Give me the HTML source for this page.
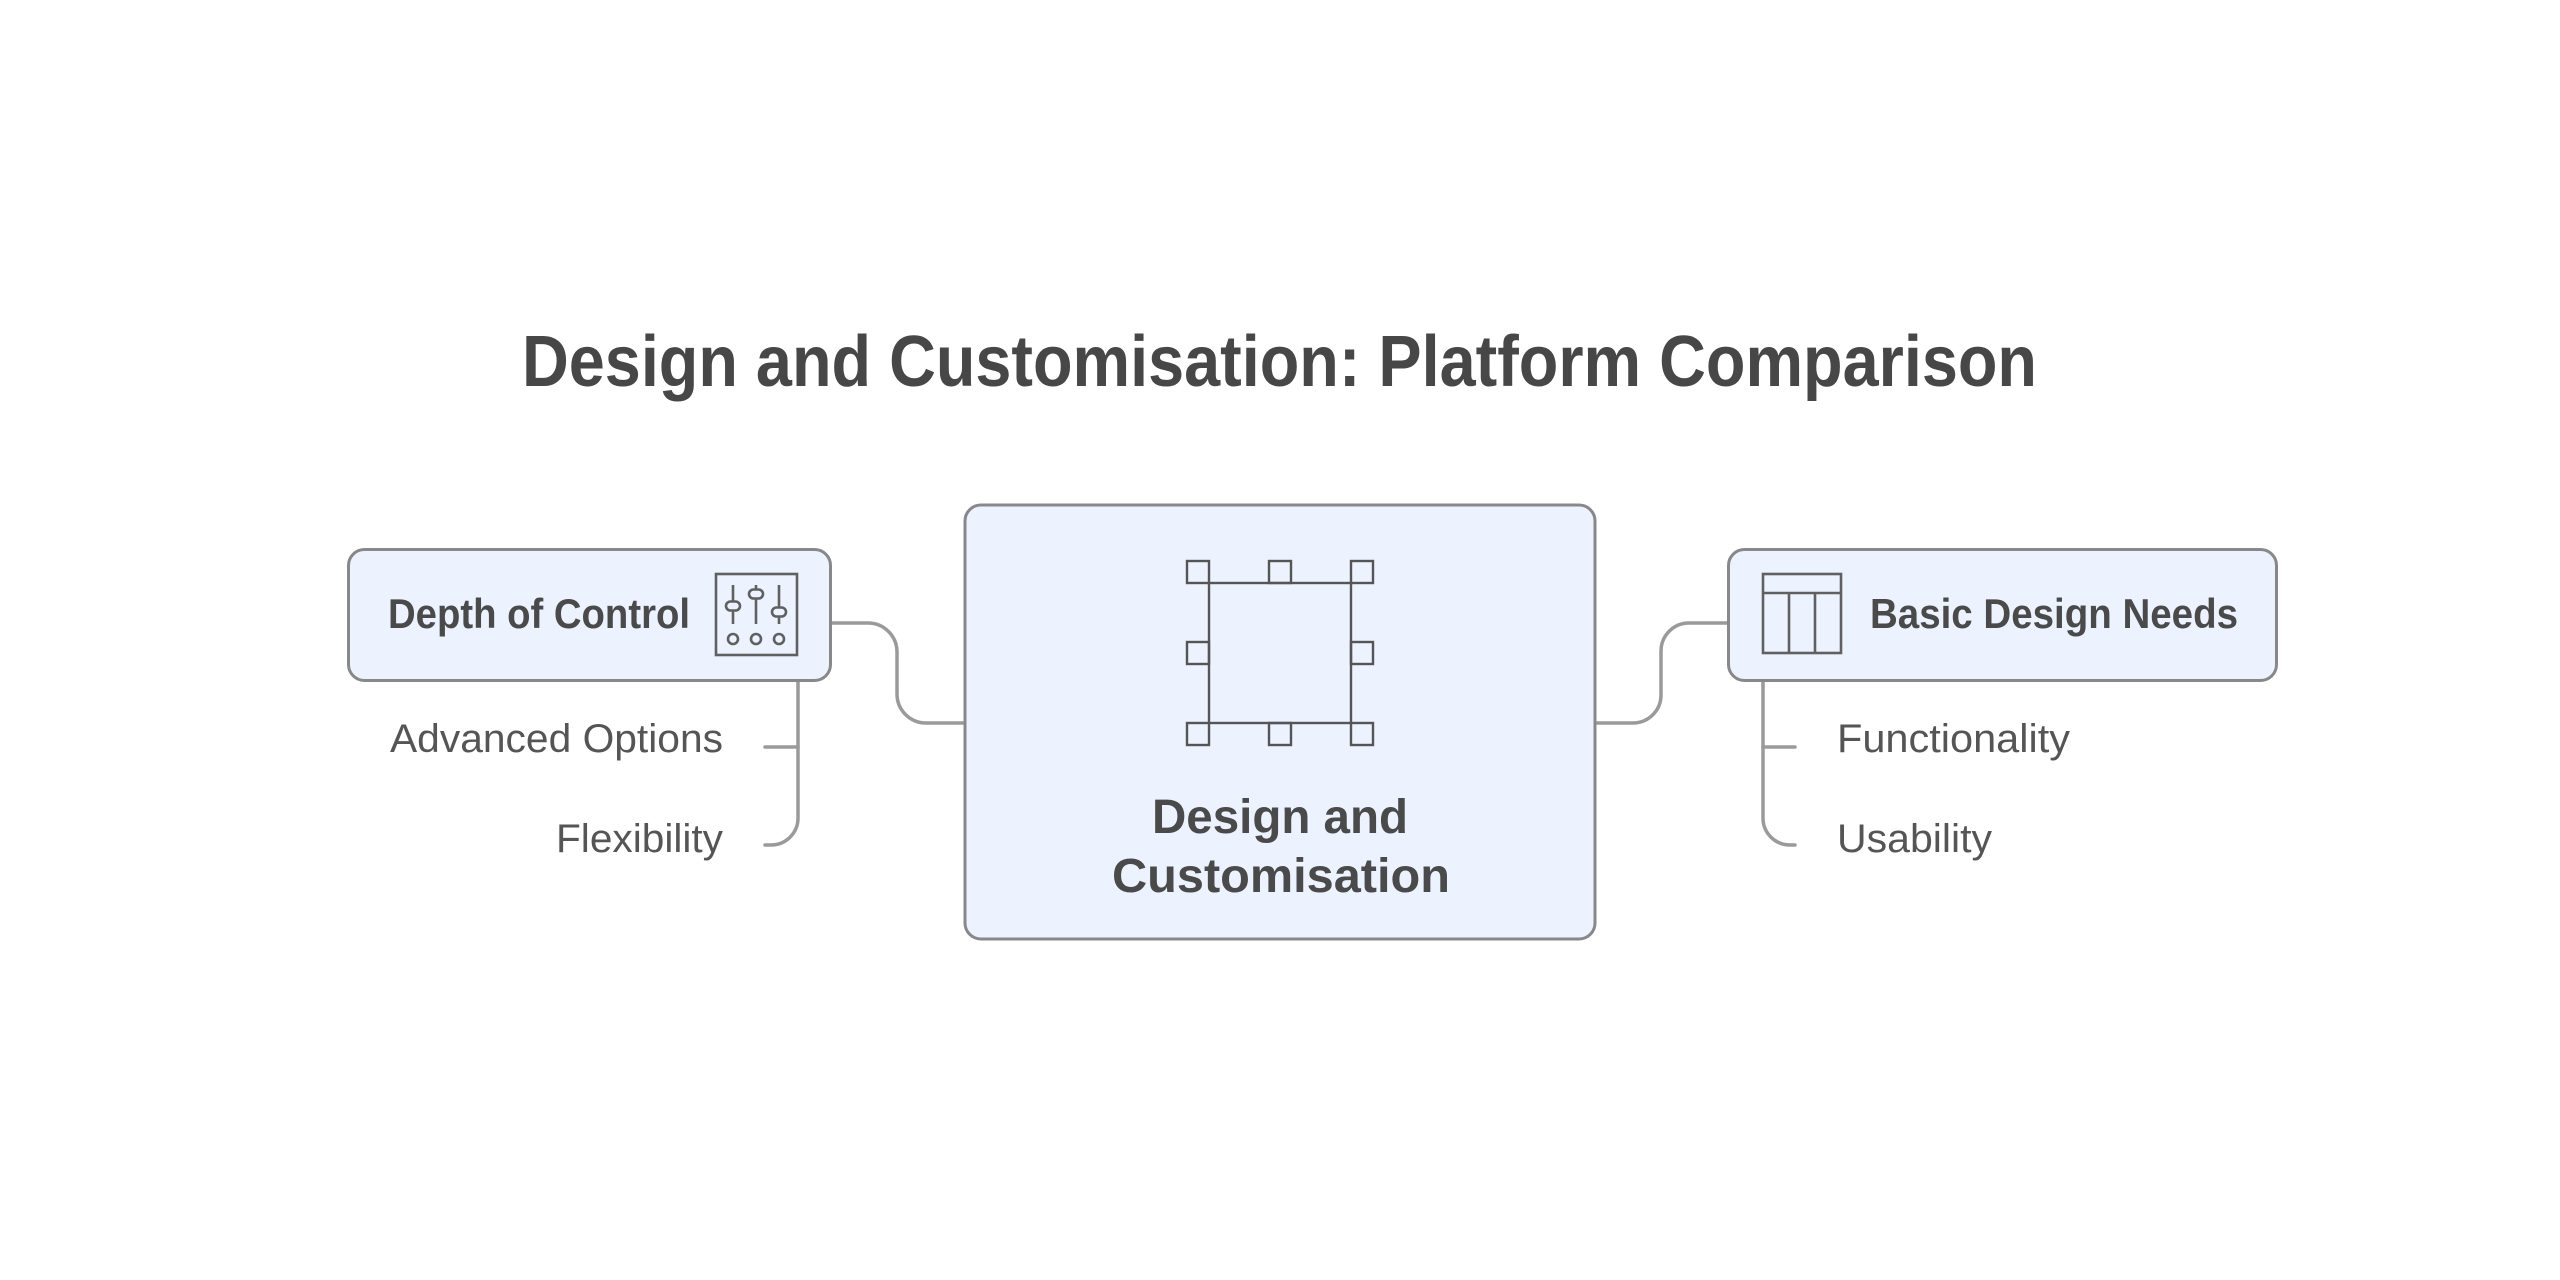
<!DOCTYPE html>
<html>
<head>
<meta charset="utf-8">
<style>
html,body{margin:0;padding:0;background:#ffffff;}
svg{display:block;}
text{font-family:"Liberation Sans",Arial,sans-serif;}
</style>
</head>
<body>
<svg width="2560" height="1280" viewBox="0 0 2560 1280" xmlns="http://www.w3.org/2000/svg">
  <rect x="0" y="0" width="2560" height="1280" fill="#ffffff"/>

  <!-- Title -->
  <text x="522" y="386" font-size="72" font-weight="bold" fill="#474747" textLength="1515" lengthAdjust="spacingAndGlyphs">Design and Customisation: Platform Comparison</text>

  <!-- Connectors -->
  <g fill="none" stroke="#9a9a9a" stroke-width="3.5" stroke-linecap="round">
    <path d="M831,623 H868 A29,29 0 0 1 897,652 V694 A29,29 0 0 0 926,723 H965"/>
    <path d="M1595,723 H1633 A28,28 0 0 0 1661,695 V651 A28,28 0 0 1 1689,623 H1728"/>
    <path d="M798,681 V818 A27,27 0 0 1 771,845 H765"/>
    <path d="M765,747 H798"/>
    <path d="M1763,681 V818 A27,27 0 0 0 1790,845 H1795"/>
    <path d="M1763,747 H1795"/>
  </g>

  <!-- Left node -->
  <rect x="348.5" y="549.5" width="482" height="131" rx="16" ry="16" fill="#ECF2FE" stroke="#888888" stroke-width="3"/>
  <text x="388" y="628" font-size="42" font-weight="bold" fill="#4a4a4a" textLength="302" lengthAdjust="spacingAndGlyphs">Depth of Control</text>
  <!-- sliders icon -->
  <g fill="none" stroke="#606060" stroke-width="2.6">
    <rect x="716" y="574" width="81" height="81"/>
    <line x1="733" y1="585" x2="733" y2="624"/>
    <line x1="756" y1="585" x2="756" y2="624"/>
    <line x1="779" y1="585" x2="779" y2="624"/>
    <rect x="726" y="601.5" width="14" height="9" rx="4.5" fill="#ECF2FE"/>
    <rect x="749" y="589.5" width="14" height="9" rx="4.5" fill="#ECF2FE"/>
    <rect x="772" y="607.5" width="14" height="9" rx="4.5" fill="#ECF2FE"/>
    <circle cx="733" cy="639" r="5"/>
    <circle cx="756" cy="639" r="5"/>
    <circle cx="779" cy="639" r="5"/>
  </g>

  <!-- Left children -->
  <text x="390" y="752" font-size="40" fill="#555555" textLength="333" lengthAdjust="spacingAndGlyphs">Advanced Options</text>
  <text x="556" y="852" font-size="40" fill="#555555" textLength="167" lengthAdjust="spacingAndGlyphs">Flexibility</text>

  <!-- Center node -->
  <rect x="965" y="505" width="630" height="434" rx="16" ry="16" fill="#ECF2FE" stroke="#888888" stroke-width="3"/>
  <g fill="none" stroke="#555555" stroke-width="2.4">
    <rect x="1209" y="583" width="142" height="140"/>
    <rect x="1187" y="561" width="22" height="22"/>
    <rect x="1269" y="561" width="22" height="22"/>
    <rect x="1351" y="561" width="22" height="22"/>
    <rect x="1187" y="642" width="22" height="22"/>
    <rect x="1351" y="642" width="22" height="22"/>
    <rect x="1187" y="723" width="22" height="22"/>
    <rect x="1269" y="723" width="22" height="22"/>
    <rect x="1351" y="723" width="22" height="22"/>
  </g>
  <text x="1152" y="833" font-size="48" font-weight="bold" fill="#4a4a4a" textLength="256" lengthAdjust="spacingAndGlyphs">Design and</text>
  <text x="1112" y="892" font-size="48" font-weight="bold" fill="#4a4a4a" textLength="338" lengthAdjust="spacingAndGlyphs">Customisation</text>

  <!-- Right node -->
  <rect x="1728.5" y="549.5" width="548" height="131" rx="16" ry="16" fill="#ECF2FE" stroke="#888888" stroke-width="3"/>
  <g fill="none" stroke="#606060" stroke-width="2.6">
    <rect x="1763" y="574" width="78" height="79"/>
    <line x1="1763" y1="593" x2="1841" y2="593"/>
    <line x1="1789" y1="593" x2="1789" y2="653"/>
    <line x1="1815" y1="593" x2="1815" y2="653"/>
  </g>
  <text x="1870" y="628" font-size="42" font-weight="bold" fill="#4a4a4a" textLength="368" lengthAdjust="spacingAndGlyphs">Basic Design Needs</text>

  <!-- Right children -->
  <text x="1837" y="752" font-size="40" fill="#555555" textLength="233" lengthAdjust="spacingAndGlyphs">Functionality</text>
  <text x="1837" y="852" font-size="40" fill="#555555" textLength="155" lengthAdjust="spacingAndGlyphs">Usability</text>
</svg>
</body>
</html>
